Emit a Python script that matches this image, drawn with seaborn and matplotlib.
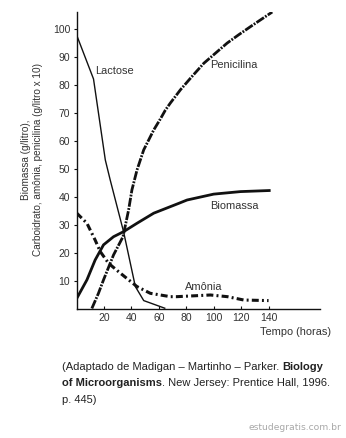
import matplotlib
matplotlib.use("Agg")
import matplotlib.pyplot as plt
import seaborn as sns
import pandas as pd

# ---- data ----
lactose_t = [0, 12.4, 21, 24.6, 34.3, 42.9, 49, 64.8]
lactose_v = [97.9, 82.1, 53.2, 46, 27.6, 8, 3, 0.2]

penicilina_t = [11.2, 16, 19.7, 27, 33.9, 38, 40.4, 44.1, 49, 56.3, 61.1, 64.8, 68.4, 75.7,
                84.2, 92.8, 101.3, 109.8, 118.3, 126.9, 135.4, 142.7]
penicilina_v = [0.2, 5.6, 10.4, 19.3, 25.8, 35.4, 42.5, 49.6, 56.8, 63.9, 67.8, 71, 73.5, 78.2,
                83, 87.7, 91.3, 94.9, 97.9, 100.8, 103.6, 106]

biomassa_t = [0.2, 7.6, 13.6, 19.7, 27, 34.3, 44.1, 56.3, 74.5, 80.6, 100, 119.5, 141.5]
biomassa_v = [3.8, 10.4, 17.5, 22.9, 25.8, 27.6, 30.6, 34.2, 37.7, 38.9, 41, 41.9, 42.3]

amonia_t = [0.2, 7.6, 13.6, 17.3, 23.4, 30.7, 38, 44.1, 53.8, 68.4, 73, 97.6, 110, 122, 140]
amonia_v = [34.2, 30.6, 24.6, 20.5, 16.3, 13.3, 10.4, 8, 5.6, 4.4, 4.4, 5.0, 4.4, 3.2, 3.0]

x_ticks = [20, 40, 60, 80, 100, 120, 140]
y_ticks = [10, 20, 30, 40, 50, 60, 70, 80, 90, 100]

series_names = ["Lactose", "Penicilina", "Biomassa", "Amônia"]

sns.set_theme(style="white")
plt.rcParams["font.family"] = ["Liberation Sans", "DejaVu Sans"]
plt.rcParams["lines.scale_dashes"] = False

W, H = 346, 438
fig = plt.figure(figsize=(W / 100, H / 100), dpi=100)
ax = fig.add_axes([76.5 / W, 1 - 309 / H, (320 - 76.5) / W, (309 - 12) / H])

LINE = "#111111"
TXT = "#333333"

styles = {
    "Lactose": dict(lw=1.0, dashes=None),
    "Penicilina": dict(lw=2.0, dashes=(6.5, 1.0, 1.3, 1.0)),
    "Biomassa": dict(lw=2.0, dashes=None),
    "Amônia": dict(lw=2.2, dashes=(5.0, 2.3, 1.4, 2.3)),
}
data = {
    "Lactose": (lactose_t, lactose_v),
    "Penicilina": (penicilina_t, penicilina_v),
    "Biomassa": (biomassa_t, biomassa_v),
    "Amônia": (amonia_t, amonia_v),
}
for name in series_names:
    t, v = data[name]
    df = pd.DataFrame({"t": t, "v": v})
    sns.lineplot(data=df, x="t", y="v", ax=ax, color=LINE, sort=False,
                 lw=styles[name]["lw"], estimator=None)
    ln = ax.lines[-1]
    ln.set_solid_capstyle("butt")
    ln.set_solid_joinstyle("round")
    if styles[name]["dashes"] is not None:
        ln.set_dashes(styles[name]["dashes"])
        ln.set_dash_capstyle("butt")

ax.set_xlim(0, 177.5)
ax.set_ylim(0, 106)
ax.set_xticks(x_ticks)
ax.set_yticks(y_ticks)
ax.set_xticklabels([str(x) for x in x_ticks])
ax.set_yticklabels([str(y) for y in y_ticks])
ax.set_xlabel("")
ax.set_ylabel("")
for s in ["top", "right"]:
    ax.spines[s].set_visible(False)
for s in ["left", "bottom"]:
    ax.spines[s].set_color(LINE)
    ax.spines[s].set_linewidth(1.0)
ax.tick_params(axis="x", direction="in", length=2.5, width=0.8, color=LINE,
               labelsize=7.5, labelcolor=TXT, pad=3, bottom=True)
ax.tick_params(axis="y", direction="out", length=2, width=0.8, color=LINE,
               labelsize=7.5, labelcolor=TXT, pad=2.5, left=True)
ax.patch.set_alpha(0)


def ftext(px, py, s, **kw):
    return fig.text(px / W, 1 - py / H, s, **kw)


# series labels
ftext(95.5, 70.5, "Lactose", fontsize=7.9, color=TXT, va="center", ha="left")
ftext(210.5, 65, "Penicilina", fontsize=7.9, color=TXT, va="center", ha="left")
ftext(210.5, 206, "Biomassa", fontsize=7.9, color=TXT, va="center", ha="left")
ftext(185, 287, "Amônia", fontsize=7.9, color=TXT, va="center", ha="left")
ftext(331, 332, "Tempo (horas)", fontsize=7.9, color=TXT, va="center", ha="right")

# y label
ftext(32, 160, "Biomassa (g/litro),\nCarboidrato, amônia, penicilina (g/litro x 10)",
      fontsize=7.2, color=TXT, rotation=90, va="center", ha="center",
      multialignment="center", linespacing=1.35)

# caption with bold segments
caption_lines = [
    [("(Adaptado de Madigan – Martinho – Parker. ", "normal"), ("Biology", "bold")],
    [("of Microorganisms", "bold"), (". New Jersey: Prentice Hall, 1996.", "normal")],
    [("p. 445)", "normal")],
]
caption_y = [367, 383.5, 400]
fig.canvas.draw()
renderer = fig.canvas.get_renderer()
for line, py in zip(caption_lines, caption_y):
    px = 62
    for s, w in line:
        t = ftext(px, py, s, fontsize=8.05, color="#222222", fontweight=w,
                  va="center", ha="left")
        bb = t.get_window_extent(renderer=renderer)
        px += bb.width

ftext(341, 427, "estudegratis.com.br", fontsize=6.6, color="#a8a8a8",
      va="center", ha="right", family="DejaVu Sans")

fig.savefig("out.png", dpi=100)
